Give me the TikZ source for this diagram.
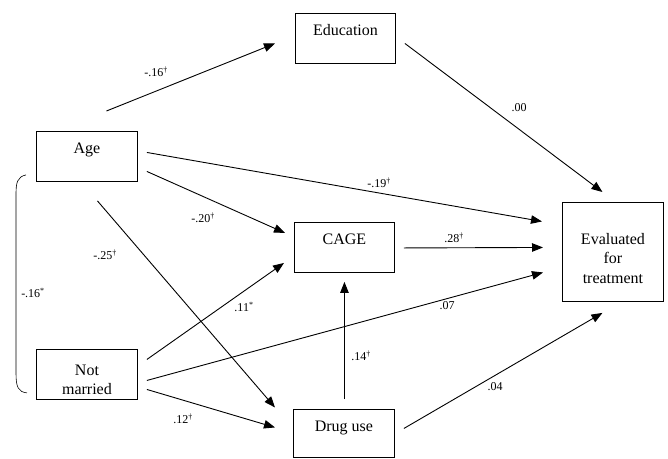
\documentclass[tikz,border=0pt]{standalone}
\usepackage{fontspec}
\setmainfont{Liberation Serif}
\usetikzlibrary{calc}
\usetikzlibrary{arrows.meta}

\begin{document}
\begin{tikzpicture}[x=1pt, y=-1pt,
    box/.style = {draw, line width=0.9pt, inner sep=0pt, minimum width=100pt,
                  text height=22pt, text depth=28pt, font=\fontsize{16}{19.5}\selectfont},
    tallbox/.style = {draw, line width=0.9pt, inner sep=0pt, minimum width=101pt,
                  align=center, font=\fontsize{16}{19.5}\selectfont},
    lbl/.style = {inner sep=0pt, font=\fontsize{12}{14}\selectfont},
    arr/.style = {line width=0.9pt, -{Triangle[length=11pt, width=8.5pt]}}]
    \useasboundingbox (0,0) rectangle (668,458);

    \node[box, anchor=north west] (edu) at (295,13) {Education};
    \node[box, anchor=north west, minimum width=101pt] (age) at (36,131) {Age};
    \node[tallbox, anchor=north west, minimum height=50pt] (nm) at (36,349) {\rule{0pt}{21pt}Not\\married};
    \node[box, anchor=north west] (cage) at (294,222) {CAGE};
    \node[box, anchor=north west, minimum width=101pt, text depth=26pt] (drug) at (293,409) {Drug use};
    \node[tallbox, anchor=north west, minimum height=99pt] (eval) at (562,202) {\rule{0pt}{23.5pt}Evaluated\\for\\treatment};

    % paths
    \draw[arr] ($(age.north)+(19.5,-20)$) -- ($(edu.west)+(-20,5)$);
    \draw[arr] ($(edu.east)+(9,5)$) -- ($(eval.north)+(-10.5,-10)$);
    \draw[arr] ($(age.east)+(9,-4)$) -- ($(eval.west)+(-20,-30.5)$);
    \draw[arr] ($(age.east)+(9,15)$) -- ($(cage.west)+(-9,-14.5)$);
    \draw[arr] ($(age.south)+(10.5,19)$) -- ($(drug.west)+(-18,-26)$);
    \draw[arr] ($(nm.east)+(9,-15)$) -- ($(cage.west)+(-10,15.5)$);
    \draw[arr] ($(nm.east)+(9,6)$) -- ($(eval.west)+(-19,20.5)$);
    \draw[arr] ($(nm.east)+(9,15)$) -- ($(drug.west)+(-18,-6)$);
    \draw[arr] ($(cage.east)+(9,0.5)$) -- ($(eval.west)+(-19,-4.5)$);
    \draw[arr] ($(drug.north)+(0.5,-10)$) -- ($(cage.south)+(0,9)$);
    \draw[arr] ($(drug.east)+(9,-5)$) -- ($(eval.south)+(-10.5,11)$);

    % correlation
    \coordinate (bt) at ($(age.south west)+(-10,-7)$);
    \coordinate (bb) at ($(nm.south west)+(-9,-7)$);
    \draw[line width=0.6pt] (bt) .. controls ($(bt)+(-9,2)$) and ($(bt)+(-10,8)$) .. ($(bt)+(-10,20)$)
        -- ($(bb)+(-11,-20)$) .. controls ($(bb)+(-11,-6)$) and ($(bb)+(-9,-1)$) .. (bb);

    \foreach \x/\y/\t [count=\k] in {156/72/{-.16\textsuperscript{†}},
    519/108/{.00}, 379/183/{-.19\textsuperscript{†}}, 203/218/{-.20\textsuperscript{†}},
    105/255/{-.25\textsuperscript{†}}, 33/293/{-.16\textsuperscript{*}},
    244/307/{.11\textsuperscript{*}}, 454/238/{.28\textsuperscript{†}},
    447/306/{.07}, 361/356/{.14\textsuperscript{†}}, 495/387/{.04},
    183/419/{.12\textsuperscript{†}}}
  {
   \node[lbl] (l\k) at (\x,\y) {\t};
  }
\end{tikzpicture}
\end{document}
